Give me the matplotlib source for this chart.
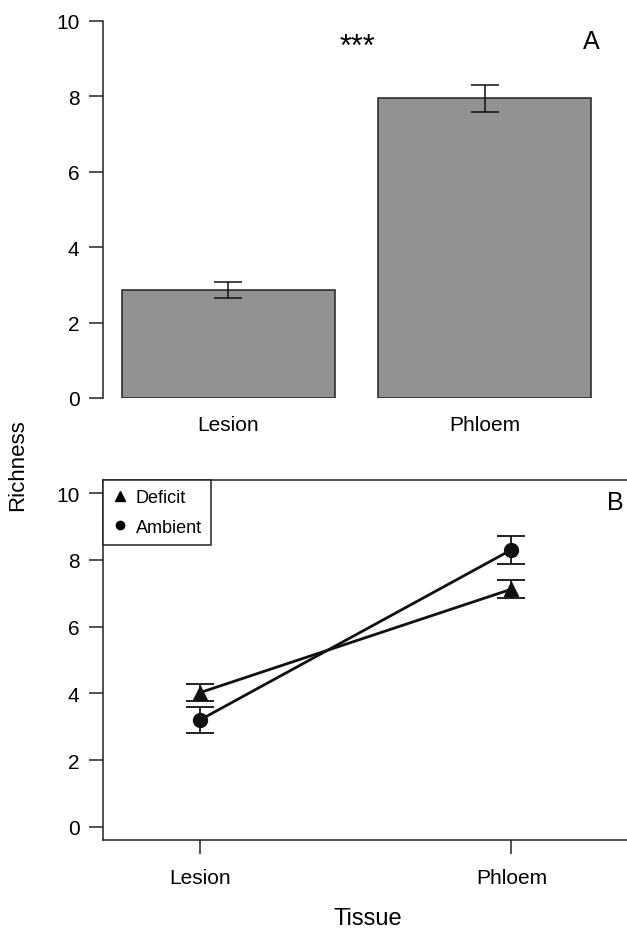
import matplotlib
matplotlib.use("Agg")
import matplotlib.pyplot as plt
from matplotlib.lines import Line2D

plt.rcParams['font.family'] = ['Liberation Sans', 'DejaVu Sans']

# Panel A data
tissues = ["Lesion", "Phloem"]
richness_mean = [2.87, 7.95]
richness_se = [0.21, 0.36]

# Panel B data
deficit_mean = [4.02, 7.12]
deficit_se = [0.25, 0.27]
ambient_mean = [3.20, 8.30]
ambient_se = [0.39, 0.42]
yticks = [0, 2, 4, 6, 8, 10]

W, H = 627, 929
fig = plt.figure(figsize=(W / 100, H / 100), dpi=100)

def rect(l, r, t, b):
    return [l / W, 1 - b / H, (r - l) / W, (b - t) / H]

# ---- Panel A ----
axA = fig.add_axes(rect(103, 610, 22, 399))
bar_x = [0.7, 1.9]
axA.bar(bar_x, richness_mean, width=1.0, color="#929292", edgecolor="#222222", linewidth=1.1, zorder=2)
axA.errorbar(bar_x, richness_mean, yerr=richness_se, fmt="none", ecolor="#111111",
             elinewidth=1.1, capsize=10, capthick=1.1, zorder=3)
axA.set_xlim(0.112, 2.488)
axA.set_ylim(0, 10)
for s in ["top", "right", "bottom"]:
    axA.spines[s].set_visible(False)
axA.spines["left"].set_bounds(0, 10)
axA.spines["left"].set_linewidth(1.1)
axA.spines["left"].set_color("#222222")
axA.set_yticks(yticks)
axA.tick_params(axis="y", length=10, width=1.1, pad=7, labelsize=15, color="#222222")
axA.set_xticks(bar_x)
axA.set_xticklabels(tissues)
axA.tick_params(axis="x", length=0, pad=12, labelsize=15)
axA.patch.set_visible(False)

# ---- Panel B ----
axB = fig.add_axes(rect(103, 633, 481, 841))
xpos = [1, 2]
axB.errorbar(xpos, deficit_mean, yerr=deficit_se, fmt="none", ecolor="#111111",
             elinewidth=1.3, capsize=10, capthick=1.3, zorder=2)
axB.errorbar(xpos, ambient_mean, yerr=ambient_se, fmt="none", ecolor="#111111",
             elinewidth=1.3, capsize=10, capthick=1.3, zorder=2)
axB.plot(xpos, deficit_mean, color="#111111", lw=2.0, marker="^", markersize=10, zorder=3)
axB.plot(xpos, ambient_mean, color="#111111", lw=2.0, marker="o", markersize=10, zorder=3)
axB.set_xlim(0.69, 2.39)
axB.set_ylim(-0.39, 10.39)
axB.set_yticks(yticks)
axB.set_xticks(xpos)
axB.set_xticklabels(tissues)
for s in axB.spines.values():
    s.set_linewidth(1.1)
    s.set_color("#222222")
axB.tick_params(axis="both", length=10, width=1.1, labelsize=15, color="#222222")
axB.tick_params(axis="y", pad=7)
axB.tick_params(axis="x", pad=10)

handles = [
    Line2D([], [], color="black", marker="^", linestyle="none", markersize=7),
    Line2D([], [], color="black", marker="o", linestyle="none", markersize=6),
]
leg = axB.legend(handles, ["Deficit", "Ambient"], loc="upper left", bbox_to_anchor=(0, 1),
                 borderaxespad=0, fancybox=False, framealpha=1, edgecolor="#222222",
                 fontsize=13, handlelength=0.9, handletextpad=0.4, labelspacing=0.7,
                 borderpad=0.5)
leg.get_frame().set_linewidth(1.1)

# Texts
fig.text(357 / W, 1 - 48 / H, "***", ha="center", va="center", fontsize=22)
fig.text(583 / W, 1 - 42 / H, "A", ha="left", va="center", fontsize=18)
fig.text(607 / W, 1 - 503 / H, "B", ha="left", va="center", fontsize=18)
fig.text(18 / W, 1 - 465 / H, "Richness", ha="center", va="center", rotation=90, fontsize=16)
fig.text(368 / W, 1 - 919 / H, "Tissue", ha="center", va="center", fontsize=17)

fig.savefig("out.png", dpi=100)
